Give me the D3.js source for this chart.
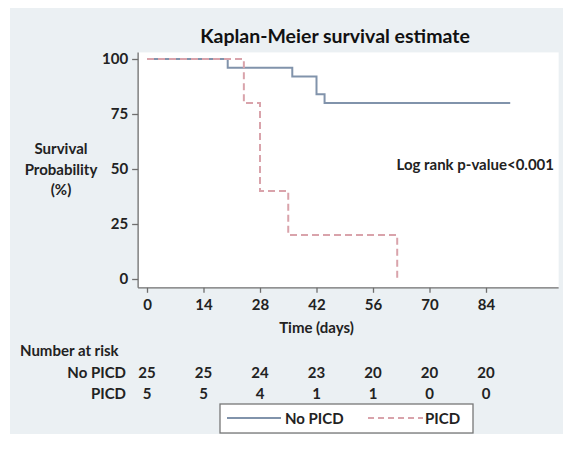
<!DOCTYPE html>
<html>
<head>
<meta charset="utf-8">
<script src="https://cdn.jsdelivr.net/npm/d3@7"></script>
<style>
  body { margin: 0; background: #fff; }
  svg { display: block; font-family: Lato, "Open Sans", sans-serif; }
</style>
</head>
<body>
<div id="chart"></div>
<script>
// step points: [day, survival %]
const noPicd = [[0, 100], [20, 96], [36, 92], [42, 84], [44, 80], [90, 80]];
const picd = [[0, 100], [24, 80], [28, 40], [35, 20], [62, 0]];
const xTicks = [0, 14, 28, 42, 56, 70, 84];
const yTicks = [0, 25, 50, 75, 100];
const riskNoPicd = [25, 25, 24, 23, 20, 20, 20];
const riskPicd = [5, 5, 4, 1, 1, 0, 0];

const W = 571, H = 452;
const blue = '#8193ab', pink = '#d9a3ab', axisCol = '#6e6e6e';
const fs = '15px';

const svg = d3.select('#chart').append('svg')
  .attr('width', W).attr('height', H);

svg.append('rect')
  .attr('x', 10).attr('y', 8)
  .attr('width', 553).attr('height', 426)
  .attr('fill', '#ebf0f3');

const x = d3.scaleLinear().domain([0, 84]).range([147, 486]);
const y = d3.scaleLinear().domain([0, 100]).range([279, 59]);

// plot region
svg.append('rect')
  .attr('x', x(-2.2)).attr('y', y(103))
  .attr('width', x(102) - x(-2.2)).attr('height', y(-4) - y(103))
  .attr('fill', '#fff');

svg.append('text')
  .attr('x', 335).attr('y', 43)
  .attr('text-anchor', 'middle')
  .style('font-size', '19.5px').style('font-weight', 700)
  .attr('fill', '#111')
  .text('Kaplan-Meier survival estimate');

// axes
const yAxis = svg.append('g')
  .attr('transform', `translate(${x(-2.2)},0)`)
  .call(d3.axisLeft(y).tickValues(yTicks).tickSize(6).tickPadding(4));
yAxis.select('.domain').attr('d', `M0,${y(103)}V${y(-4)}`);

const xAxis = svg.append('g')
  .attr('transform', `translate(0,${y(-4)})`)
  .call(d3.axisBottom(x).tickValues(xTicks).tickSize(5).tickPadding(7));
xAxis.select('.domain').attr('d', `M${x(-2.2)},0H${x(102)}`);

svg.selectAll('.domain, .tick line')
  .attr('stroke', axisCol).attr('stroke-width', 1.3);
svg.selectAll('.tick text')
  .style('font-family', 'Lato, sans-serif')
  .style('font-size', fs).style('font-weight', 700)
  .attr('fill', '#222');

// y label
svg.append('text')
  .attr('text-anchor', 'middle')
  .style('font-size', fs).style('font-weight', 700)
  .attr('fill', '#222')
  .selectAll('tspan')
  .data(['Survival', 'Probability', '(%)'])
  .join('tspan')
  .attr('x', 61)
  .attr('y', (d, i) => 154 + i * 20.5)
  .text(d => d);

svg.append('text')
  .attr('x', x(42)).attr('y', 333)
  .attr('text-anchor', 'middle')
  .style('font-size', fs).style('font-weight', 700)
  .attr('fill', '#222')
  .text('Time (days)');

svg.append('text')
  .attr('x', 554).attr('y', 170)
  .attr('text-anchor', 'end')
  .style('font-size', fs).style('font-weight', 700)
  .attr('fill', '#222')
  .text('Log rank p-value<0.001');

// survival curves
const line = d3.line()
  .x(d => x(d[0])).y(d => y(d[1]))
  .curve(d3.curveStepAfter);

svg.append('path')
  .datum(noPicd)
  .attr('d', line)
  .attr('fill', 'none')
  .attr('stroke', blue)
  .attr('stroke-width', 2);

svg.append('path')
  .datum(picd)
  .attr('d', line)
  .attr('fill', 'none')
  .attr('stroke', pink)
  .attr('stroke-width', 2)
  .attr('stroke-dasharray', '7,4');

// number at risk table
const txt = (tx, ty, s, anchor) => svg.append('text')
  .attr('x', tx).attr('y', ty)
  .attr('text-anchor', anchor)
  .style('font-size', fs).style('font-weight', 700)
  .attr('fill', '#222')
  .text(s);

txt(20, 356, 'Number at risk', 'start');
txt(126, 378, 'No PICD', 'end');
txt(126, 399, 'PICD', 'end');

xTicks.forEach((t, i) => {
  txt(x(t), 378, riskNoPicd[i], 'middle');
  txt(x(t), 399, riskPicd[i], 'middle');
});

// legend
const lg = svg.append('g');
lg.append('rect')
  .attr('x', 220).attr('y', 404)
  .attr('width', 253).attr('height', 29)
  .attr('fill', '#fff')
  .attr('stroke', '#777').attr('stroke-width', 1.3);
lg.append('line')
  .attr('x1', 227).attr('x2', 281).attr('y1', 418).attr('y2', 418)
  .attr('stroke', blue).attr('stroke-width', 2);
lg.append('text')
  .attr('x', 285).attr('y', 424)
  .style('font-size', fs).style('font-weight', 700).attr('fill', '#222')
  .text('No PICD');
lg.append('line')
  .attr('x1', 368).attr('x2', 423).attr('y1', 418).attr('y2', 418)
  .attr('stroke', pink).attr('stroke-width', 2)
  .attr('stroke-dasharray', '6,4');
lg.append('text')
  .attr('x', 425).attr('y', 424)
  .style('font-size', fs).style('font-weight', 700).attr('fill', '#222')
  .text('PICD');
</script>
</body>
</html>
